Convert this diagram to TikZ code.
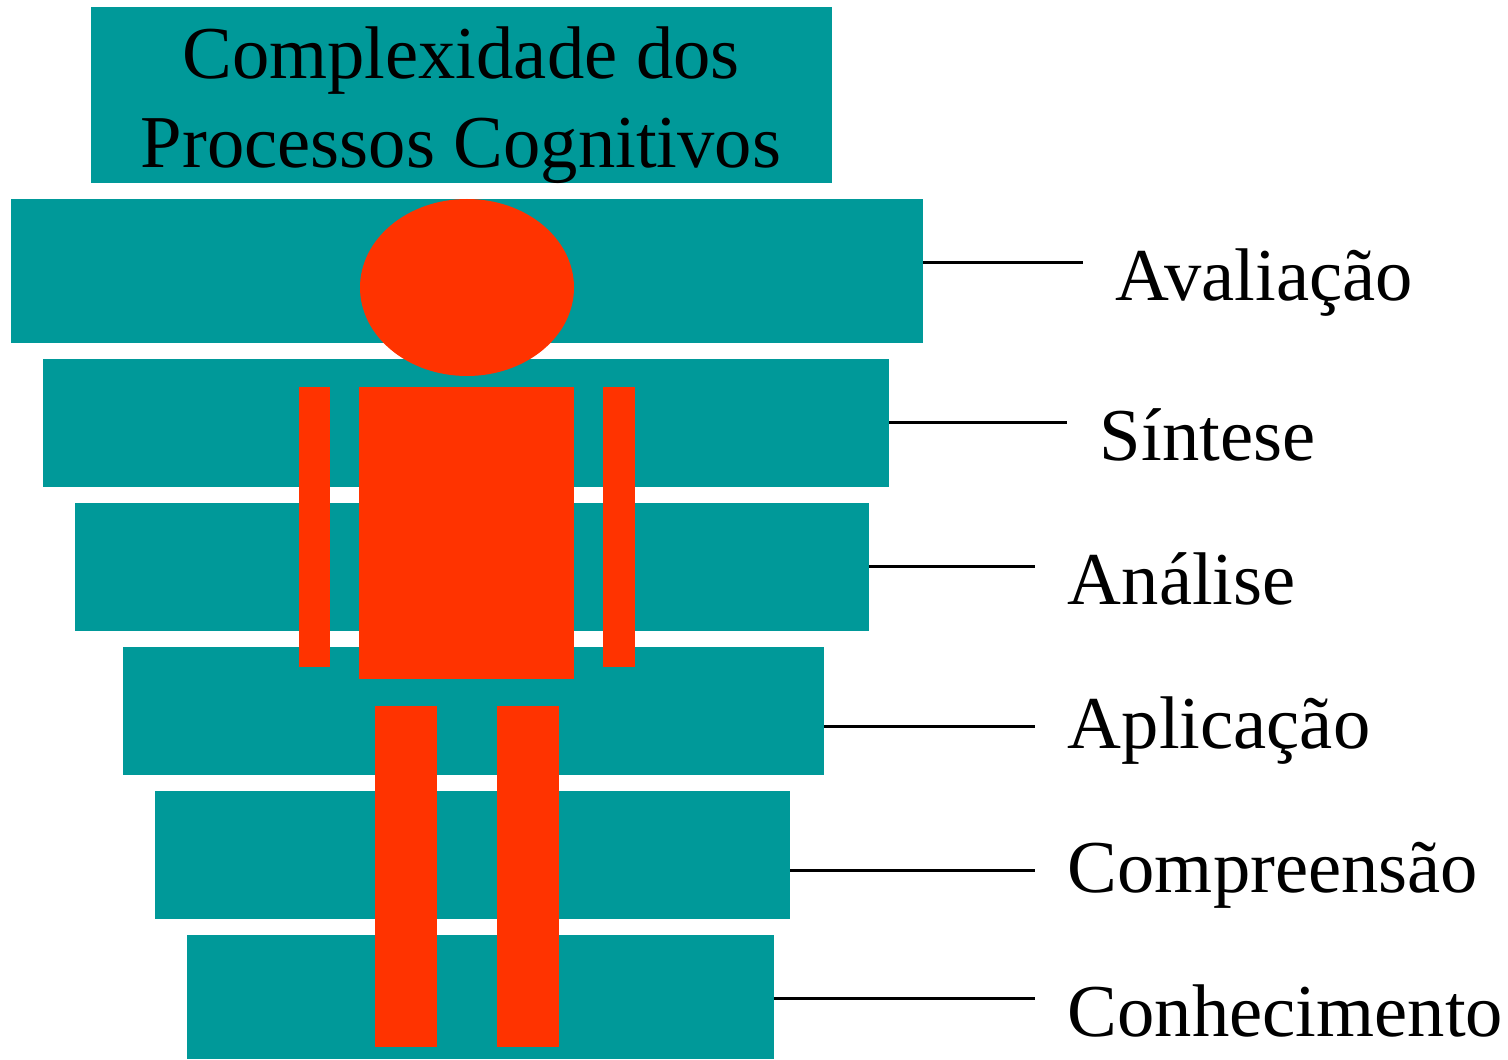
\documentclass[tikz,border=0pt]{standalone}
\usepackage{fontspec}
\setmainfont{Liberation Serif}
\definecolor{tealbar}{HTML}{009999}
\definecolor{redfig}{HTML}{FF3300}
\tikzset{
  levellabel/.style={anchor=base west, inner sep=0pt, font=\fontsize{37.3}{44}\selectfont},
  levelline/.style={line width=1.5pt, black}
}
\begin{document}
\begin{tikzpicture}[x=0.5pt, y=-0.5pt]
  \useasboundingbox (0,0) rectangle (1508,1059);

  % === Title ===
  \fill[tealbar] (91,7) rectangle (832,183);
  \node[align=center, inner sep=0pt, font=\fontsize{37.3}{44.5}\selectfont] (title) at (461,105.5)
    {Complexidade dos\\Processos Cognitivos};

  % === Levels ===
  \foreach \lev/\xa/\ya/\xb/\yb/\yl/\xe/\xt/\yt/\txt in {
    aval/11/199/923/343/262.7/1083/1115.5/300/Avaliação,
    sint/43/359/889/487/422.7/1067/1099.5/460/Síntese,
    anal/75/503/869/631/566.7/1035/1067.5/604/Análise,
    apli/123/647/824/775/726.7/1035/1067.5/748/Aplicação,
    comp/155/791/790/919/870.7/1035/1067.5/892/Compreensão,
    conh/187/935/774/1059/998.7/1035/1067.5/1036/Conhecimento} {
    \fill[tealbar] (\xa,\ya) rectangle (\xb,\yb);
    \coordinate (\lev-a) at (\xb,\yl);
    \coordinate (\lev-b) at (\xe,\yl);
    \draw[levelline] (\lev-a) -- (\lev-b);
    \node[levellabel] (\lev-t) at (\xt,\yt) {\txt};
  }

  % === Figure ===
  \fill[redfig] (467,287.5) ellipse [x radius=107, y radius=88.5];
  \fill[redfig] (359,387) rectangle (574,679); % body
  \fill[redfig] (299,387) rectangle (330,667);
  \fill[redfig] (603,387) rectangle (635,667);
  \fill[redfig] (375,706) rectangle (437,1047); % legs
  \fill[redfig] (497,706) rectangle (559,1047);

\end{tikzpicture}
\end{document}
